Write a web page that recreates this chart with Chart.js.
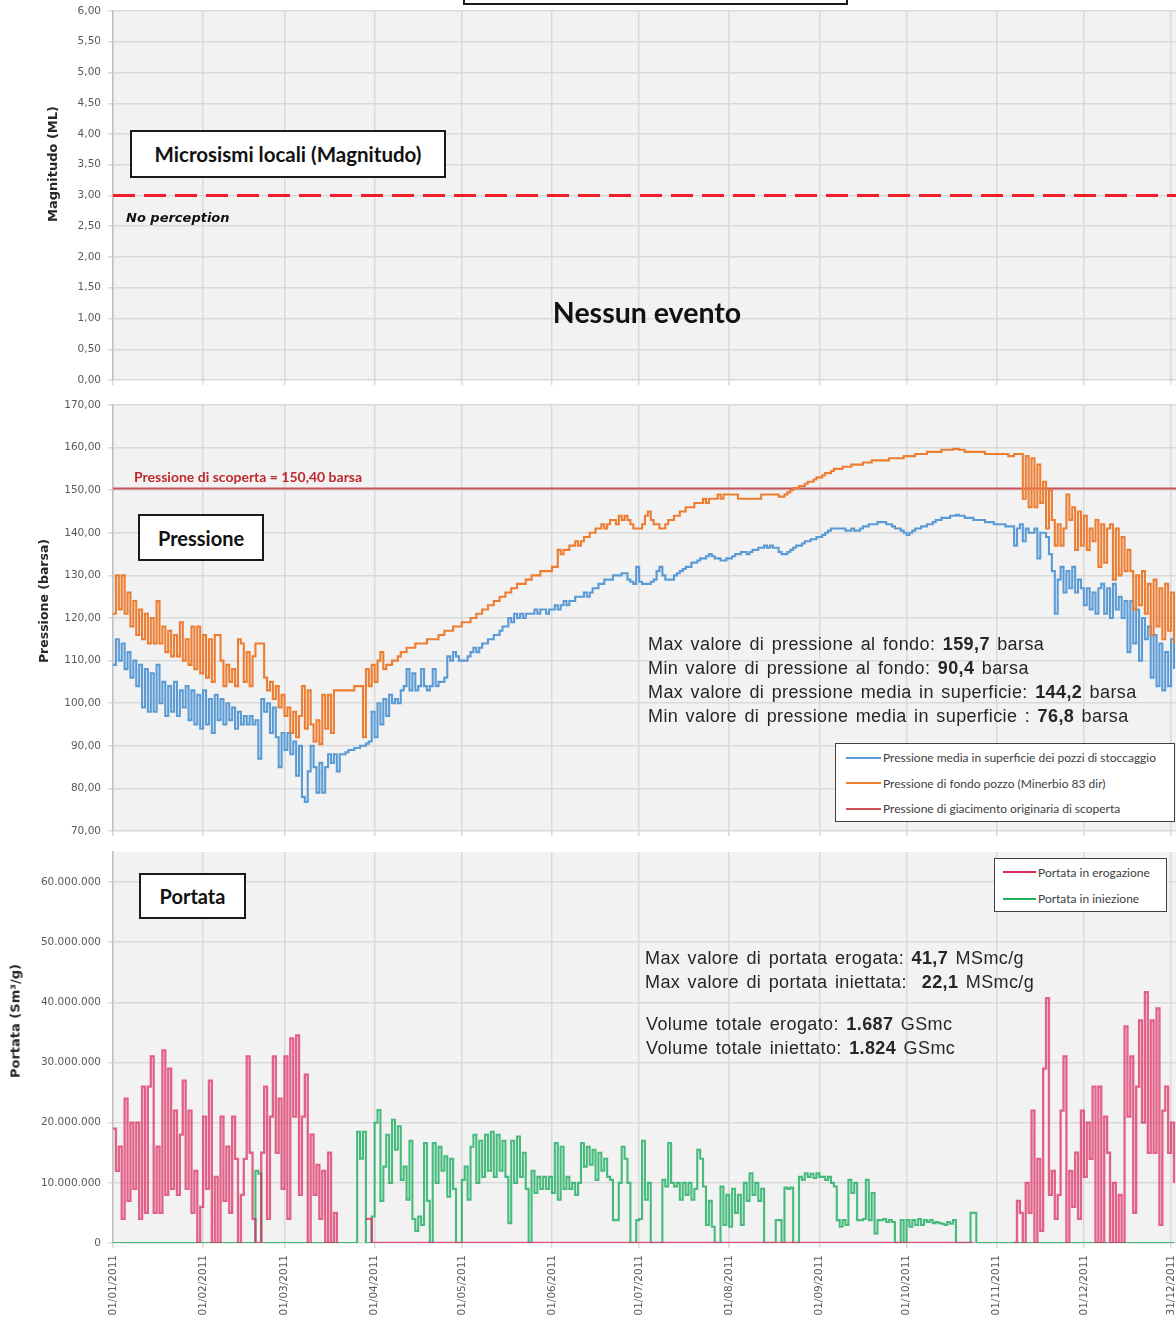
<!DOCTYPE html>
<html lang="it">
<head>
<meta charset="utf-8">
<title>Microsismi, pressione e portata 2011</title>
<script src="https://cdn.jsdelivr.net/npm/chart.js@4.4.1/dist/chart.umd.min.js"></script>
<style>
  body { margin: 0; background: #fff; }
  #pagina { position: relative; width: 1176px; height: 1326px; overflow: hidden; background: #fff; }
  canvas { position: absolute; left: 0; }
  .riquadro { position: absolute; box-sizing: border-box; border: 2px solid #1a1a1a; background: #fff; }
  .etichetta { display: flex; align-items: center; justify-content: center;
    font: bold 20px Lato, sans-serif; color: #111; }
  .nota { position: absolute; white-space: nowrap; }
  .titolo-asse { font: bold 13px "DejaVu Sans", sans-serif; color: #262626;
    transform: translate(-50%, -50%) rotate(-90deg); }
  .corsivo { font: italic bold 13px "DejaVu Sans", sans-serif; color: #111; }
  .evento { font: bold 28.5px Lato, sans-serif; color: #111; transform: translate(-50%, -50%); }
  .scoperta { font: bold 14px Lato, sans-serif; color: #c0282d; }
  .statistiche { font: 18px "Liberation Sans", Arial, sans-serif; line-height: 24px;
    color: #262626; letter-spacing: 0.4px; word-spacing: 2px; }
  .legenda { position: absolute; box-sizing: border-box; border: 1.5px solid #404040; background: #fff;
    font: 12px Lato, sans-serif; color: #404040; }
  .voce { display: flex; align-items: center; white-space: nowrap; }
  .tratto { display: inline-block; height: 2px; margin-right: 2px; }
</style>
</head>
<body>
<div id="pagina">
  <canvas id="graficoMagnitudo" width="1176" height="395" style="top:0"></canvas>
  <canvas id="graficoPressione" width="1176" height="450" style="top:395px"></canvas>
  <canvas id="graficoPortata" width="1176" height="481" style="top:845px"></canvas>

  <div class="nota titolo-asse" style="left:52px;top:164px">Magnitudo (ML)</div>
  <div class="nota titolo-asse" style="left:43px;top:601px;font-size:12.5px">Pressione (barsa)</div>
  <div class="nota titolo-asse" style="left:15px;top:1021px">Portata (Sm³/g)</div>

  <div class="riquadro" style="left:463px;top:-30px;width:385px;height:35px"></div>
  <div class="riquadro etichetta" style="left:130px;top:130px;width:316px;height:48px;font-size:20.5px">Microsismi locali (Magnitudo)</div>
  <div class="nota corsivo" style="left:126px;top:210px">No perception</div>
  <div class="nota evento" style="left:647px;top:312px">Nessun evento</div>

  <div class="nota scoperta" style="left:134px;top:468px">Pressione di scoperta = 150,40 barsa</div>
  <div class="riquadro etichetta" style="left:138px;top:514px;width:126px;height:47px">Pressione</div>
  <div class="nota statistiche" style="left:648px;top:632px">
    Max valore di pressione al fondo: <b>159,7</b> barsa<br>
    Min valore di pressione al fondo: <b>90,4</b> barsa<br>
    Max valore di pressione media in superficie: <b>144,2</b> barsa<br>
    Min valore di pressione media in superficie : <b>76,8</b> barsa
  </div>
  <div class="legenda" id="legendaPressione" style="left:835px;top:743px;width:340px;height:79px;padding:1px 0 0 10px"></div>

  <div class="riquadro etichetta" style="left:139px;top:873px;width:107px;height:46px">Portata</div>
  <div class="nota statistiche" style="left:645px;top:946px">
    Max valore di portata erogata: <b>41,7</b> MSmc/g<br>
    Max valore di portata iniettata: &nbsp;<b>22,1</b> MSmc/g
  </div>
  <div class="nota statistiche" style="left:646px;top:1012px">
    Volume totale erogato: <b>1.687</b> GSmc<br>
    Volume totale iniettato: <b>1.824</b> GSmc
  </div>
  <div class="legenda" id="legendaPortata" style="left:994px;top:858px;width:173px;height:54px;padding:0 0 0 8px"></div>
</div>

<script>
// Asse dei tempi: giorni dal 01/01/2011 (l'immagine è tagliata poco dopo il 31/12)
const FINE_ASSE = 365.7;
const giorniTick = [0, 31, 59, 90, 120, 151, 181, 212, 243, 273, 304, 334, 364];
const etichetteDate = [
  '01/01/2011', '01/02/2011', '01/03/2011', '01/04/2011', '01/05/2011', '01/06/2011', '01/07/2011',
  '01/08/2011', '01/09/2011', '01/10/2011', '01/11/2011', '01/12/2011', '31/12/2011',
];
const tickPortata = [0, 1e7, 2e7, 3e7, 4e7, 5e7, 6e7];

// Soglie orizzontali
const sogliaPercezione = 3.0;      // ML
const pressioneScoperta = 150.4;   // barsa

// Pressione di fondo pozzo (Minerbio 83 dir), barsa, un valore al giorno (0..365)
const pressioneFondo = [
  121, 130, 122, 130, 121, 126, 118, 124, 116, 122,
  115, 121, 114, 120, 114, 124, 114, 118, 112, 117,
  111, 116, 111, 119, 110, 115, 109, 118, 108, 118,
  107, 116, 106, 115, 105, 116, 116, 110, 104, 109,
  105, 108, 104, 115, 114, 105, 112, 104, 111, 114,
  114, 114, 106, 103, 105, 101, 104, 99, 102, 97,
  99, 93, 98, 92, 97, 104, 94, 103, 95, 91,
  96, 90.4, 102, 94, 102, 93, 103, 103, 103, 103,
  103, 103, 103, 104, 104, 104, 92, 108, 104, 109,
  105, 110, 112, 108, 109, 109, 110, 110, 111, 112,
  112, 113, 113, 113, 114, 114, 114, 114, 115, 115,
  115, 115, 116, 116, 117, 117, 117, 118, 118, 118,
  119, 119, 119, 120, 120, 121, 121, 122, 122, 123,
  123, 124, 124, 125, 125, 126, 126, 127, 127, 128,
  128, 128, 129, 129, 130, 130, 130, 131, 131, 131,
  131, 132, 132, 136, 135, 136, 136, 137, 137, 138,
  137, 138, 139, 139, 140, 140, 141, 141, 142, 141,
  142, 143, 143, 142, 144, 143, 144, 143, 142, 141,
  141, 141, 142, 144, 145, 143, 142, 142, 141, 141,
  142, 143, 143, 144, 144, 145, 145, 146, 146, 146,
  147, 147, 147, 148, 147, 148, 148, 148, 149, 148,
  149, 149, 149, 149, 149, 148, 148, 148, 148, 148,
  148, 148, 148, 149, 149, 149, 149, 149, 149, 148.5,
  148.5, 149, 149.5, 150, 150.5, 150.5, 151, 151, 151.5, 152,
  152, 152.5, 153, 153, 153.5, 154, 154, 154.5, 155, 155,
  155, 155.5, 155.5, 155.5, 156, 156, 156, 156, 156.5, 156.5,
  156.5, 157, 157, 157, 157, 157, 157, 157.5, 157.5, 157.5,
  157.5, 157.5, 158, 158, 158, 158, 158.5, 158.5, 158.5, 158.5,
  159, 159, 159, 159, 159, 159.5, 159.5, 159.5, 159.5, 159.7,
  159.7, 159.5, 159.5, 159, 159, 159, 159, 159, 159, 159,
  158.5, 158.5, 158.5, 158.5, 158.5, 158.5, 158.5, 158.5, 158, 158,
  158.5, 158.5, 158.5, 148, 158, 146, 157.5, 146, 156, 147,
  152, 141, 150, 143, 137, 142, 137, 141, 149, 143,
  146, 136, 145, 137, 144, 136, 141, 138, 143, 132,
  142, 133, 141, 142, 129, 141, 130, 139, 131, 136,
  131, 122, 130, 123, 131, 121, 128, 116, 129, 118,
  127, 115, 128, 117, 126, 114,
];

// Pressione media in superficie dei pozzi di stoccaggio, barsa (0..365)
const pressioneMedia = [
  109, 115, 110, 114, 108, 112, 106, 110, 104, 109,
  99, 108, 98, 107, 98, 109, 100, 105, 97, 104,
  98, 105, 97, 103, 99, 104, 96, 103, 95, 102,
  94, 103, 95, 101, 93, 102, 96, 101, 95, 100,
  96, 99, 94, 98, 95, 97, 95, 97, 95, 96,
  87, 101, 98, 100, 93, 99, 92, 85, 93, 89,
  93, 88, 91, 83, 90, 78, 76.8, 84, 90, 85,
  79, 86, 79, 85, 88, 86, 88, 84, 88, 88,
  88.5, 89, 89, 89.5, 89.5, 90, 90, 90.5, 91, 98,
  92, 100, 95, 101, 97, 102, 100, 101, 100, 103,
  104, 108, 103, 107, 103, 104, 108, 104, 103, 104,
  108, 104, 105, 105, 106, 111, 110, 112, 111, 110,
  110, 110, 111, 112, 113, 112, 113, 114, 114, 115,
  115, 116, 116, 117, 118, 118, 120, 119, 121, 120,
  121, 120, 121, 121, 121, 122, 121, 122, 122, 121,
  122, 122, 123, 122, 123, 124, 123, 124, 124, 125,
  125, 125, 126, 125, 126, 127, 127, 128, 128, 129,
  129, 129, 130, 130, 130, 130.5, 130.5, 129, 128.5, 128,
  132, 128.5, 128, 128, 128, 128.5, 129, 131, 132, 130,
  129, 129, 129, 130, 130.5, 131, 131.5, 132, 132, 133,
  133, 133.5, 134, 134, 134.5, 135, 134.5, 134, 134, 133.5,
  133.5, 134, 134, 134.5, 135, 135, 135.5, 135.5, 135, 135.5,
  136, 136, 136.5, 136.5, 137, 136.5, 137, 136.5, 136.5, 135.5,
  135, 135, 135.5, 136, 136.5, 137, 137, 137.5, 138, 138,
  138.5, 138.5, 139, 139, 139.5, 140, 140.5, 141, 141, 141,
  141, 141, 140.5, 140.5, 141, 140.5, 140.5, 141, 141.5, 141.5,
  142, 142, 142, 142.5, 142.5, 142.5, 142, 142, 141.5, 141,
  141, 140.5, 140, 139.5, 140, 140.5, 141, 141, 141.5, 141.5,
  142, 142, 142.5, 143, 143, 143.5, 143.5, 143.5, 144, 144,
  144.2, 144, 144, 143.5, 143.5, 143.5, 143, 143, 143, 143,
  142.5, 142.5, 142.5, 142, 142, 142, 142, 141.5, 141.5, 141.5,
  137, 141, 142, 138, 141, 140, 140, 141, 134, 140,
  140, 139, 135, 131, 121, 129, 132, 126, 131, 127,
  132, 126, 129, 127, 123, 127, 122, 126, 121, 127,
  128, 121, 127, 120, 128, 122, 125, 120, 124, 112,
  124, 114, 122, 110, 120, 115, 118, 106, 116, 104,
  114, 103, 112, 104, 115, 108,
];

// Portata in erogazione, MSmc/g, per tratti (giorno di inizio indicato)
const erogazioneGenMar = [ // dal giorno 0
  19, 12, 16, 4, 24, 7, 20, 9, 20, 4,
  26, 5, 26, 31, 5, 16, 5, 32, 8, 29,
  9, 22, 8, 18, 27, 9, 22, 5, 12, 0,
  6, 21, 9, 27, 0, 11, 0, 21, 7, 16,
  5, 21, 14, 0, 8, 14, 31, 15, 4, 0,
  0, 15, 26, 4, 21, 31, 15, 24, 9, 31,
  4, 34, 21, 34.5, 8, 21, 28, 0, 18, 8,
  13, 4, 12, 0, 15, 0, 5,
];
const erogazioneApr = [4, 4];            // dal giorno 87, poi ferma a 0 fino al giorno 296
const erogazioneNovDic = [ // dal giorno 310
  0, 7, 5, 0, 10, 5, 22, 0, 14, 2,
  29, 40.7, 8, 12, 4, 8, 22, 31, 0, 12,
  6, 15, 4, 22, 11, 20, 14, 26, 0, 26,
  0, 21, 15, 0, 10, 0, 8, 0, 36, 21,
  31, 5, 26, 37, 20, 41.7, 15, 37, 15, 39,
  3, 22, 26, 15, 20, 10,
];

// Portata in iniezione, MSmc/g (0 negli altri giorni)
const iniezioneFeb = [12, 11.5];         // dal giorno 49
const iniezioneAprOtt = [ // dal giorno 84
  18.5, 14, 18.5, 0, 0, 4.4,
  20, 22.1, 7, 12.7, 18, 10, 20.5, 15.5, 19.4, 10.5,
  12.7, 7.2, 17, 4, 2, 4.4, 3, 16.6, 7, 0,
  16.6, 10, 16, 12, 14.4, 7.7, 14, 9, 0, 0,
  10.5, 12.7, 7.2, 16, 18, 10, 17, 11, 18, 12,
  18.5, 11, 18, 12, 17, 11, 3.3, 17, 10, 17.7,
  11, 15, 9, 0, 12, 8.3, 11, 9, 11, 9,
  11, 8.3, 16.6, 7.2, 16, 9, 11, 9, 10, 8,
  10, 16.6, 12.7, 16, 13, 15.5, 10.5, 15, 12, 14,
  11, 10.5, 3.8, 3.8, 10, 16, 14, 10, 0, 0,
  3.8, 4, 17, 7.2, 10, 0, 0, 0, 0, 10.5,
  9.4, 16.6, 10, 9.4, 10, 7.2, 10, 8, 10, 7.2,
  9, 15.5, 14, 9.4, 3, 7, 2.7, 0, 0, 9.4,
  3, 8, 2.7, 9, 5, 8, 3, 10, 7, 11.6,
  8, 10, 7, 9, 0, 0, 0, 0, 3.8, 3.8,
  0, 9.2, 9, 9.2, 0, 0, 11, 10.5, 11.6, 11,
  11.5, 10.8, 11.6, 11, 11, 10.5, 11, 10, 9.4, 3.8,
  2.7, 3.8, 3, 10.5, 8.3, 10, 3.8, 3.8, 4, 10.5,
  3.8, 8.3, 1.6, 3.8, 3.8, 4, 3.5, 3.8, 3.5, 0,
  0, 3.8, 0, 3.8, 2.7, 3.8, 3, 4, 3, 3.8,
  3.5, 3.8, 3.3, 3.5, 3.3, 3.2, 3, 3.5, 3.2, 3.8,
  0, 0, 0, 0, 0, 5, 5,
];

const GRIGLIA = '#d9d9d9';
const TESTO_ASSI = '#595959';

Chart.defaults.font.family = '"DejaVu Sans", sans-serif';
Chart.defaults.font.size = 10.5;
Chart.defaults.color = TESTO_ASSI;

/** Punti {x: giorno, y} da una serie giornaliera. */
function punti(valori, scala = 1) {
  return valori.map((v, i) => ({ x: i, y: v === null ? null : v * scala }));
}

/** Copia i tratti letti nel vettore annuale. */
function componi(base, tratti) {
  const serie = base.slice();
  tratti.forEach(([inizio, valori]) => valori.forEach((v, i) => { serie[inizio + i] = v; }));
  return serie;
}

function giorni(valore) {
  return new Array(366).fill(valore);
}

const erogazione = componi(giorni(null), [
  [0, erogazioneGenMar],
  [77, [0]],
  [87, erogazioneApr],
  [89, new Array(208).fill(0)],
  [310, erogazioneNovDic],
]);
const iniezione = componi(giorni(0), [[49, iniezioneFeb], [84, iniezioneAprOtt]]);

const formatoDecimale = v => v.toFixed(2).replace('.', ',');
const formatoMigliaia = v => String(Math.round(v)).replace(/\B(?=(\d{3})+(?!\d))/g, '.');

const sfondoArea = {
  id: 'sfondoArea',
  beforeDraw(chart) {
    const { ctx, chartArea: a } = chart;
    ctx.save();
    ctx.fillStyle = '#f2f2f2';
    ctx.fillRect(a.left, a.top, a.width, a.height);
    ctx.restore();
  },
};

function asseX(altezza, conEtichette) {
  return {
    type: 'linear',
    min: 0,
    max: FINE_ASSE,
    afterBuildTicks: scale => { scale.ticks = giorniTick.map(value => ({ value })); },
    afterFit: scale => {
      scale.height = altezza;
      scale.paddingLeft = 0;
      scale.paddingRight = 0;
    },
    grid: { color: GRIGLIA, lineWidth: 1.5, tickLength: 5 },
    border: { display: false },
    ticks: {
      display: conEtichette,
      autoSkip: false,
      minRotation: 90,
      maxRotation: 90,
      padding: 7,
      callback: (value, index) => etichetteDate[index],
    },
  };
}

function asseY({ min, max, passo, formato, valoriTick }) {
  return {
    min,
    max,
    afterBuildTicks: valoriTick ? scale => { scale.ticks = valoriTick.map(value => ({ value })); } : undefined,
    // larghezza fissa, e nessun margine extra per le etichette agli estremi
    afterFit: scale => {
      scale.width = 113;
      scale.paddingTop = 0;
      scale.paddingBottom = 0;
    },
    grid: { color: GRIGLIA, lineWidth: 1.5, tickLength: 5 },
    border: { color: '#bfbfbf', width: 1.5 },
    ticks: { stepSize: passo, padding: 7, callback: formato },
  };
}

function opzioni(margineAlto, x, y) {
  return {
    responsive: false,
    animation: false,
    layout: { autoPadding: false, padding: { top: margineAlto, left: 0, right: 0, bottom: 0 } },
    plugins: { legend: { display: false }, tooltip: { enabled: false } },
    elements: { point: { radius: 0 }, line: { tension: 0 } },
    scales: { x, y },
  };
}

function lineaCostante(valore) {
  return [{ x: 0, y: valore }, { x: FINE_ASSE, y: valore }];
}

function legenda(id, chart, altezzaRiga, larghezzaTratto) {
  const box = document.getElementById(id);
  chart.data.datasets.forEach(ds => {
    const voce = document.createElement('div');
    voce.className = 'voce';
    voce.style.height = `${altezzaRiga}px`;
    const tratto = document.createElement('span');
    tratto.className = 'tratto';
    tratto.style.width = `${larghezzaTratto}px`;
    tratto.style.background = ds.legendColor || ds.borderColor;
    voce.append(tratto, ds.label);
    box.appendChild(voce);
  });
}

new Chart(document.getElementById('graficoMagnitudo'), {
  type: 'line',
  data: {
    datasets: [{
      label: 'No perception',
      data: lineaCostante(sogliaPercezione),
      borderColor: '#f01e28',
      borderWidth: 3,
      borderDash: [22, 9],
    }],
  },
  options: opzioni(11, asseX(15, false), asseY({ min: 0, max: 6, passo: 0.5, formato: formatoDecimale })),
  plugins: [sfondoArea],
});

const graficoPressione = new Chart(document.getElementById('graficoPressione'), {
  type: 'line',
  data: {
    datasets: [
      {
        label: 'Pressione media in superficie dei pozzi di stoccaggio',
        data: punti(pressioneMedia),
        borderColor: '#5b9bd5',
        borderWidth: 2.1,
        stepped: true,
        order: 2,
      },
      {
        label: 'Pressione di fondo pozzo (Minerbio 83 dir)',
        data: punti(pressioneFondo),
        borderColor: '#ed7d31',
        borderWidth: 2.1,
        stepped: true,
        order: 1,
      },
      {
        label: 'Pressione di giacimento originaria di scoperta',
        data: lineaCostante(pressioneScoperta),
        borderColor: '#c9555a',
        borderWidth: 2.2,
        order: 3,
      },
    ],
  },
  options: opzioni(10, asseX(14, false), asseY({ min: 70, max: 170, passo: 10, formato: formatoDecimale })),
  plugins: [sfondoArea],
});

const graficoPortata = new Chart(document.getElementById('graficoPortata'), {
  type: 'line',
  data: {
    datasets: [
      {
        label: 'Portata in erogazione',
        data: punti(erogazione, 1e6),
        borderColor: 'rgba(221, 40, 94, 0.72)',
        legendColor: '#dd285e',
        borderWidth: 2.3,
        stepped: true,
        spanGaps: false,
        order: 1,
      },
      {
        label: 'Portata in iniezione',
        data: punti(iniezione, 1e6),
        borderColor: 'rgba(31, 176, 96, 0.82)',
        legendColor: '#1fb060',
        borderWidth: 2.1,
        stepped: true,
        order: 2,
      },
    ],
  },
  options: opzioni(7, asseX(83, true), asseY({
    min: 0, max: 65e6, passo: 1e7, formato: formatoMigliaia, valoriTick: tickPortata,
  })),
  plugins: [sfondoArea],
});

legenda('legendaPressione', graficoPressione, 25.5, 35);
legenda('legendaPortata', graficoPortata, 26.5, 33);
</script>
</body>
</html>
